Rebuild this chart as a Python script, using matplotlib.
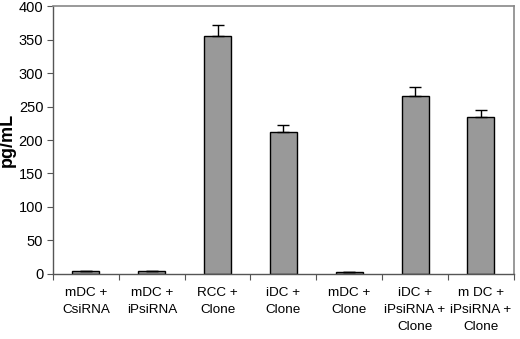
import matplotlib
matplotlib.use("Agg")
import matplotlib.pyplot as plt
import numpy as np

categories = ["mDC +\nCsiRNA", "mDC +\niPsiRNA", "RCC +\nClone", "iDC +\nClone",
              "mDC +\nClone", "iDC +\niPsiRNA +\nClone", "m DC +\niPsiRNA +\nClone"]
values = [5, 5, 355, 212, 3, 266, 234]
errors = [0, 0, 17, 10, 0, 13, 11]
yticks = [0, 50, 100, 150, 200, 250, 300, 350, 400]

plt.rcParams['font.family'] = ['Liberation Sans', 'DejaVu Sans']
fig = plt.figure(figsize=(5.2, 3.39), dpi=100)
ax = fig.add_axes([0.102, 0.192, 0.886, 0.790])
x = np.arange(len(categories))
ax.bar(x, values, width=0.41, color="#999999", edgecolor="black", linewidth=1.0, zorder=2)
ax.errorbar(x, values, yerr=[np.zeros(len(values)), errors], fmt="none",
            ecolor="black", elinewidth=1.0, capsize=4, capthick=1.0, zorder=3)
ax.set_xlim(-0.5, len(categories) - 0.5)
ax.set_ylim(0, 400)
ax.set_yticks(yticks)
ax.set_yticklabels([str(t) for t in yticks], fontsize=10.5)
ax.set_xticks(np.arange(-0.5, len(categories), 1.0))
ax.set_xticklabels([])
ax.set_xticks(x, minor=True)
ax.set_xticklabels(categories, minor=True, fontsize=9.7, linespacing=1.55)
ax.tick_params(axis="x", which="minor", length=0, pad=9.5)
ax.tick_params(axis="x", which="major", direction="out", length=4, color="#555555")
ax.tick_params(axis="y", direction="out", length=4, color="#555555", pad=3)
ax.set_ylabel("pg/mL", fontsize=13, fontweight="bold", labelpad=2)
for s in ["top", "right"]:
    ax.spines[s].set_color("#888888")
    ax.spines[s].set_linewidth(1.2)
for s in ["left", "bottom"]:
    ax.spines[s].set_color("#555555")
    ax.spines[s].set_linewidth(1.0)
fig.savefig("out.png", dpi=100)
